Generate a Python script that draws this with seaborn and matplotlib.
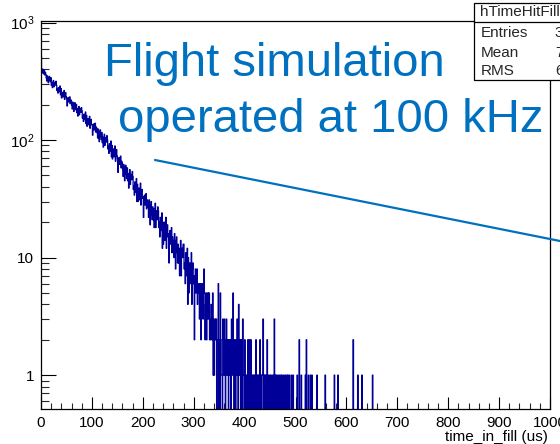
import numpy as np
import pandas as pd
import matplotlib
matplotlib.use("Agg")
import matplotlib.pyplot as plt
from matplotlib.patches import Rectangle
from matplotlib.lines import Line2D
from matplotlib.ticker import FixedLocator, FixedFormatter, MultipleLocator, NullFormatter
import seaborn as sns

# Hits per 1 us bin of time_in_fill
counts_000_099 = [
    520, 395, 372, 401, 384, 366, 390, 358, 377, 362,
    337, 318, 352, 328, 307, 341, 348, 323, 314, 339,
    292, 311, 279, 301, 321, 284, 299, 309, 294, 316,
    293, 264, 272, 251, 279, 271, 258, 288, 243, 274,
    228, 245, 254, 233, 240, 264, 222, 248, 253, 234,
    226, 195, 223, 230, 211, 214, 233, 204, 220, 216,
    199, 184, 210, 192, 175, 202, 208, 188, 181, 201,
    171, 185, 160, 177, 193, 164, 176, 184, 172, 189,
    177, 154, 161, 144, 166, 159, 149, 173, 138, 162,
    131, 144, 152, 135, 141, 159, 126, 147, 150, 136,
]
counts_100_199 = [
    134, 110, 132, 137, 122, 125, 139, 117, 129, 126,
    115, 104, 124, 110, 97, 117, 122, 107, 101, 116,
    95, 106, 87, 100, 112, 90, 99, 105, 96, 109,
    101, 84, 89, 77, 93, 88, 80, 98, 72, 90,
    69, 79, 84, 72, 76, 89, 66, 81, 83, 73,
    69, 53, 67, 71, 62, 63, 73, 58, 66, 64,
    57, 49, 62, 53, 45, 59, 61, 51, 47, 58,
    45, 52, 39, 48, 56, 42, 47, 51, 46, 54,
    49, 38, 41, 34, 44, 41, 36, 47, 30, 42,
    30, 36, 39, 31, 34, 43, 28, 37, 38, 32,
]
counts_200_299 = [
    33, 22, 31, 34, 28, 29, 35, 26, 31, 29,
    27, 22, 31, 25, 19, 28, 30, 23, 21, 27,
    21, 26, 18, 24, 29, 18, 23, 25, 21, 27,
    25, 18, 20, 15, 22, 19, 17, 24, 12, 20,
    13, 17, 20, 14, 17, 22, 12, 18, 19, 15,
    16, 9, 16, 17, 13, 14, 18, 11, 15, 14,
    13, 10, 16, 11, 8, 14, 15, 11, 9, 13,
    9, 12, 7, 11, 14, 7, 11, 12, 10, 13,
    13, 8, 9, 6, 11, 9, 7, 12, 4, 10,
    5, 8, 9, 6, 7, 11, 4, 8, 9, 6,
]
counts_300_399 = [
    7, 2, 6, 8, 5, 6, 8, 4, 6, 6,
    5, 3, 6, 4, 2, 6, 6, 4, 3, 6,
    8, 5, 2, 4, 5, 2, 4, 5, 3, 5,
    5, 2, 3, 2, 4, 3, 2, 5, 1, 3,
    1, 2, 3, 2, 3, 0, 2, 2, 6, 0,
    2, 0, 5, 2, 1, 1, 0, 3, 2, 1,
    3, 1, 0, 2, 3, 1, 1, 2, 0, 2,
    1, 2, 2, 0, 3, 1, 1, 5, 1, 0,
    2, 2, 0, 1, 2, 3, 1, 0, 4, 1,
    1, 2, 0, 2, 1, 0, 3, 1, 1, 0,
]
counts_400_499 = [
    2, 0, 1, 1, 0, 1, 2, 1, 0, 2,
    1, 0, 2, 1, 0, 1, 1, 0, 1, 1,
    0, 1, 2, 1, 0, 1, 0, 1, 1, 0,
    2, 0, 1, 0, 1, 1, 3, 0, 1, 0,
    1, 0, 1, 0, 2, 0, 1, 0, 0, 1,
    0, 1, 0, 0, 1, 0, 0, 1, 3, 0,
    1, 0, 1, 0, 0, 1, 0, 0, 1, 0,
    0, 1, 0, 1, 0, 0, 1, 0, 0, 1,
    1, 0, 0, 1, 0, 1, 0, 0, 1, 0,
    0, 0, 1, 0, 0, 1, 0, 0, 0, 0,
]
counts_500_659 = [
    0, 0, 0, 1, 0, 0, 0, 2, 0, 0,
    0, 1, 0, 0, 0, 0, 0, 0, 0, 1,
    0, 2, 0, 0, 0, 1, 0, 0, 0, 1,
    0, 0, 1, 0, 0, 0, 0, 0, 0, 0,
    0, 0, 1, 0, 0, 0, 0, 0, 0, 0,
    0, 0, 0, 0, 0, 0, 0, 0, 1, 0,
    0, 0, 0, 0, 0, 0, 0, 0, 0, 0,
    0, 0, 0, 0, 0, 0, 1, 0, 0, 0,
    0, 0, 0, 1, 0, 0, 0, 0, 0, 0,
    0, 0, 0, 0, 0, 0, 0, 0, 0, 0,
    0, 0, 0, 0, 0, 0, 0, 0, 0, 0,
    0, 0, 0, 2, 0, 0, 0, 0, 0, 0,
    0, 0, 1, 0, 0, 0, 0, 0, 0, 0,
    1, 0, 0, 0, 0, 0, 0, 0, 0, 0,
    0, 0, 0, 0, 0, 0, 0, 0, 0, 0,
    0, 1, 0, 0, 0, 0, 0, 0, 0, 0,
]

x_major_ticks = [0, 100, 200, 300, 400, 500, 600, 700, 800, 900, 1000]
y_major_ticks = [1, 10, 100, 1000]
y_tick_labels = ["1", "10", "$10^{2}$", "$10^{3}$"]
hist_name = "hTimeHitFill"
x_title = "time_in_fill (us)"
overlay_lines = ["Flight simulation", "operated at 100 kHz"]

counts = np.array(counts_000_099 + counts_100_199 + counts_200_299
                  + counts_300_399 + counts_400_499 + counts_500_659, dtype=float)
bin_width = 1.0
centers = (np.arange(len(counts)) + 0.5) * bin_width
df = pd.DataFrame({"time_in_fill": centers, "hits": counts})

entries = int(counts.sum())
mean = np.average(centers, weights=counts)
rms = np.sqrt(np.average((centers - mean) ** 2, weights=counts))

sns.set_theme(style="white")
plt.rcParams["font.family"] = ["Liberation Sans", "DejaVu Sans"]
plt.rcParams["mathtext.fontset"] = "custom"
plt.rcParams["mathtext.rm"] = "Liberation Sans"
plt.rcParams["mathtext.default"] = "regular"

W, H = 560, 444
fig = plt.figure(figsize=(W / 100, H / 100), dpi=100)
fig.patch.set_facecolor("white")
ax = fig.add_axes([41 / W, 1 - 409 / H, (550 - 41) / W, (409 - 21) / H])
ax.set_facecolor("white")

sns.histplot(data=df, x="time_in_fill", weights="hits",
             bins=1000, binrange=(0, 1000),
             element="step", fill=False, color="#000099",
             linewidth=0.9, ax=ax)
ax.set_yscale("log")
ax.set_xlim(0, 1000)
ax.set_ylim(0.515, 1030)
ax.set_xlabel("")
ax.set_ylabel("")

for s in ax.spines.values():
    s.set_visible(True)
    s.set_color("black")
    s.set_linewidth(0.9)

ax.xaxis.set_major_locator(FixedLocator(x_major_ticks))
ax.xaxis.set_minor_locator(MultipleLocator(20))
ax.yaxis.set_major_locator(FixedLocator(y_major_ticks))
ax.yaxis.set_major_formatter(FixedFormatter(y_tick_labels))
minor_y = [k * 10.0 ** e for e in range(-1, 3) for k in range(2, 10)]
ax.yaxis.set_minor_locator(FixedLocator(minor_y))
ax.yaxis.set_minor_formatter(NullFormatter())

ax.tick_params(axis="x", which="major", direction="in", length=9, width=0.8,
               bottom=True, top=False, labelsize=11, pad=5, colors="black")
ax.tick_params(axis="x", which="minor", direction="in", length=4.5, width=0.8,
               bottom=True, top=False)
ax.tick_params(axis="y", which="major", direction="in", length=11, width=0.8,
               left=True, right=False, labelsize=11, pad=5, colors="black")
ax.tick_params(axis="y", which="minor", direction="in", length=6, width=0.8,
               left=True, right=False)

fig.text(548 / W, 1 - 437 / H, x_title, ha="right", va="center",
         fontsize=11, color="black")

# statistics box
box = Rectangle((474 / W, 1 - 80 / H), (640 - 474) / W, (80 - 3) / H,
                transform=fig.transFigure, facecolor="white",
                edgecolor="black", linewidth=0.9, zorder=5)
fig.add_artist(box)
fig.add_artist(Line2D([474 / W, 640 / W], [1 - 22 / H, 1 - 22 / H],
                      transform=fig.transFigure, color="black",
                      linewidth=0.9, zorder=6))
fig.text(480 / W, 1 - 12.5 / H, hist_name, ha="left", va="center",
         fontsize=11, zorder=7)
rows = [("Entries", f"{entries:d}", 33, 597), ("Mean", f"{mean:.2f}", 53, 593),
        ("RMS", f"{rms:.2f}", 71, 593)]
for name, val, yy, xr in rows:
    fig.text(481 / W, 1 - yy / H, name, ha="left", va="center",
             fontsize=11, zorder=7)
    fig.text(xr / W, 1 - yy / H, val, ha="right", va="center",
             fontsize=11, zorder=7)

# annotation
blue = "#0070C0"
fig.text(104 / W, 1 - 76 / H, overlay_lines[0], ha="left", va="baseline",
         fontsize=34, color=blue, zorder=8)
fig.text(118 / W, 1 - 132 / H, overlay_lines[1], ha="left", va="baseline",
         fontsize=34, color=blue, zorder=8)
fig.add_artist(Line2D([155 / W, 1.0], [1 - 160 / H, 1 - 241 / H],
                      transform=fig.transFigure, color=blue,
                      linewidth=1.6, zorder=8))

fig.savefig("out.png", dpi=100, facecolor="white")
